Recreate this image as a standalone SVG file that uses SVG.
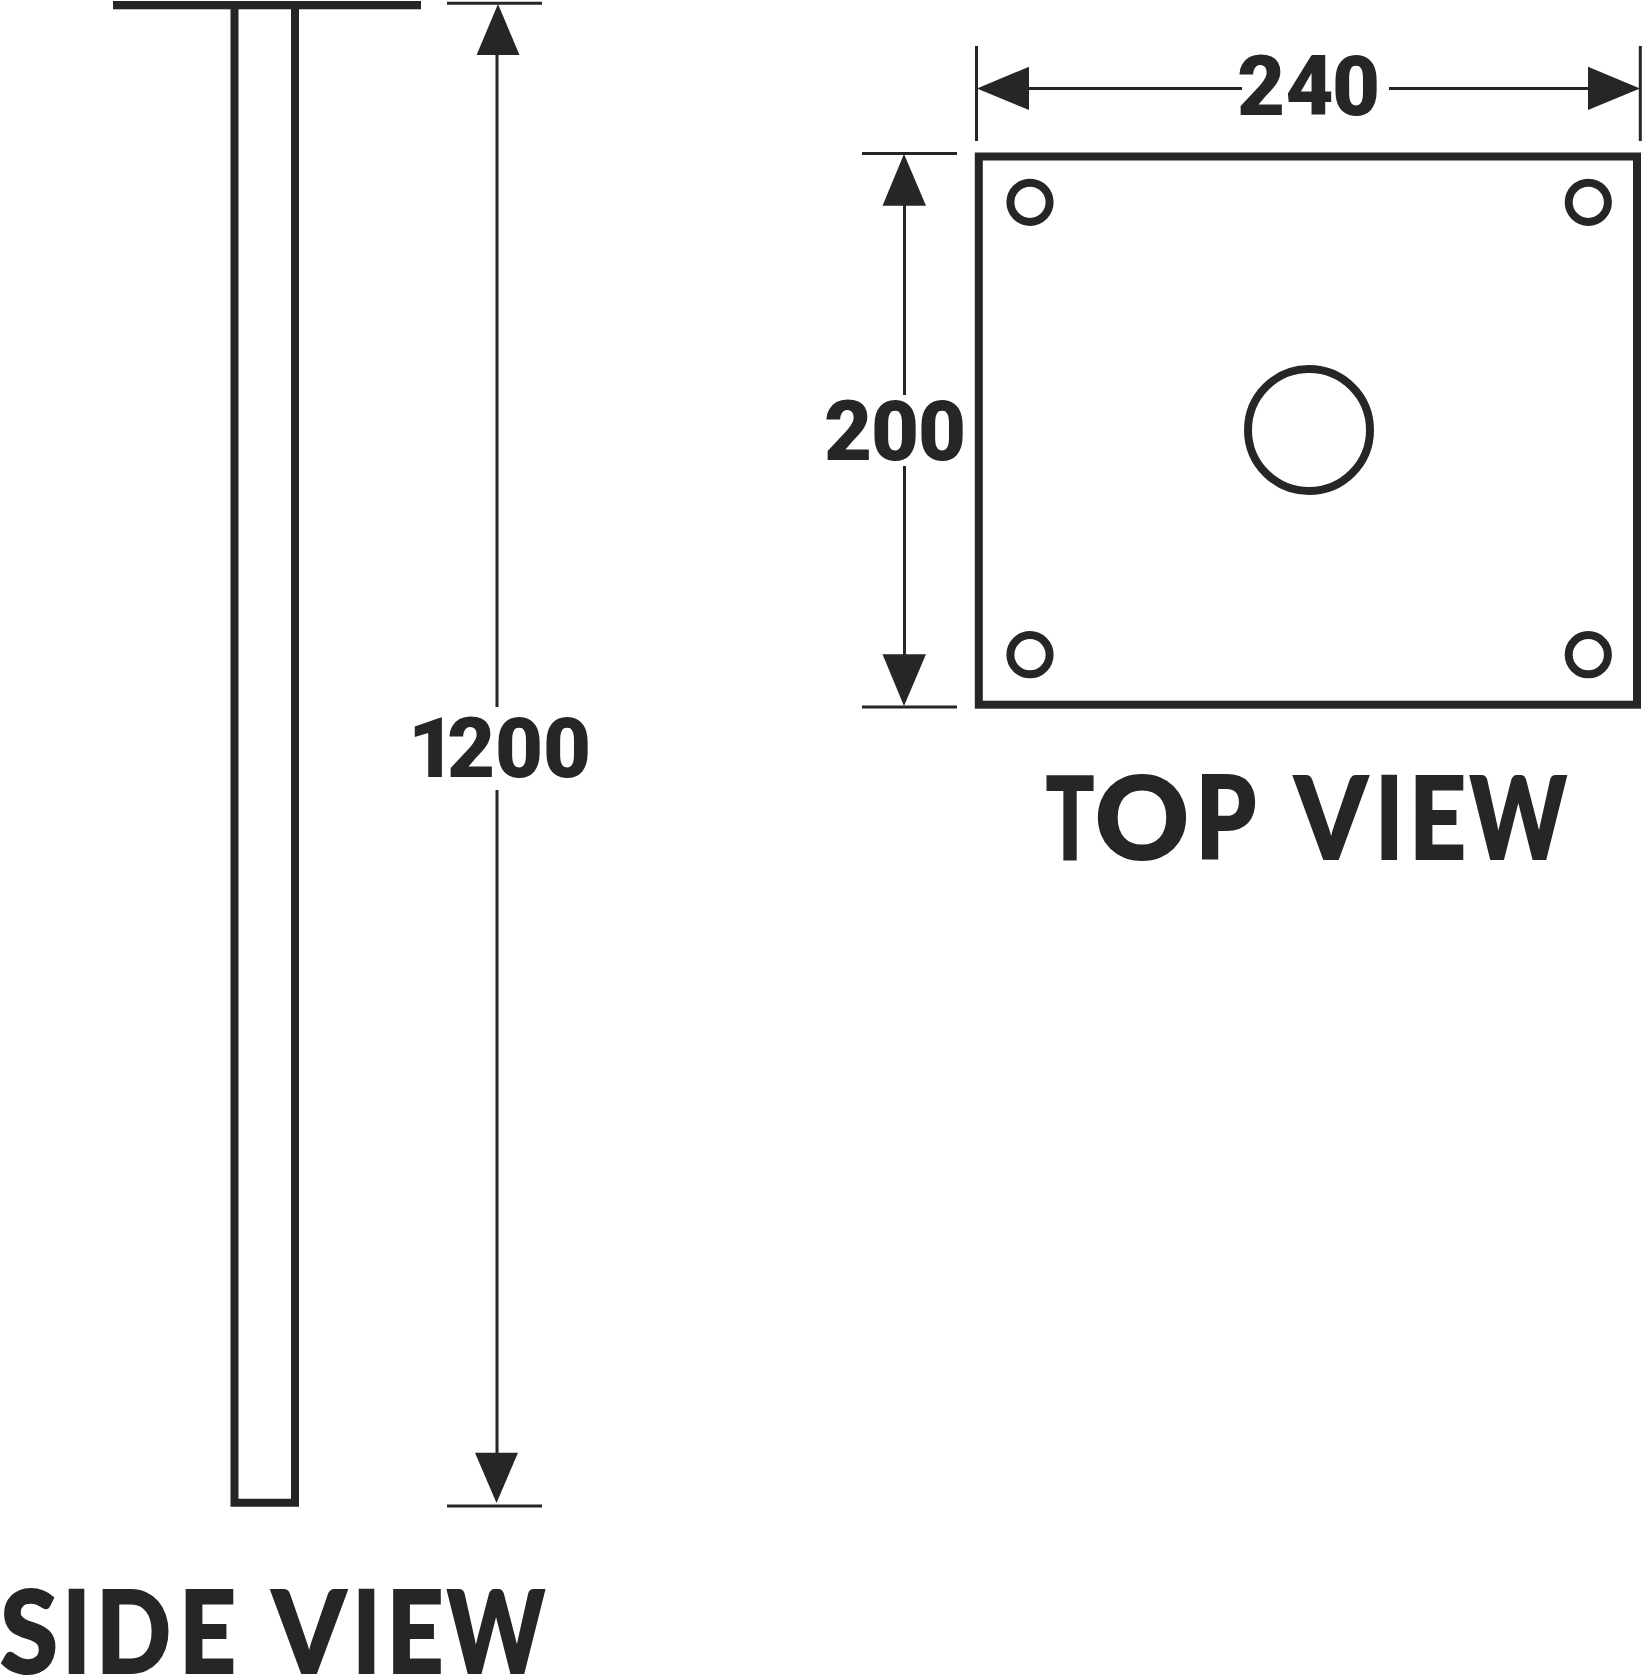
<svg xmlns="http://www.w3.org/2000/svg" width="1642" height="1677" viewBox="0 0 1642 1677">
<style>
.o{fill:none;stroke:#262626;stroke-width:8}
.f{fill:#262626;stroke:none}
.l{stroke:#262626;stroke-width:3;fill:none}
.t{fill:#262626;stroke:#262626;stroke-width:2;font-family:"Lato","Liberation Sans",sans-serif;font-weight:900;font-size:115px}
.n{fill:#262626;font-family:"Roboto","Liberation Sans",sans-serif;font-weight:900;font-size:83px}
</style>
<rect width="1642" height="1677" fill="#fff"/>
<g id="side-view">
<rect class="f" x="113" y="1" width="308" height="8.300"/>
<path class="o" d="M234.500 9V1502.700H295V9"/>
<text class="t" y="1673"><tspan x="0" textLength="58" lengthAdjust="spacingAndGlyphs">S</tspan><tspan x="62.500" textLength="28" lengthAdjust="spacingAndGlyphs">I</tspan><tspan x="96" textLength="75" lengthAdjust="spacingAndGlyphs">D</tspan><tspan x="179" textLength="57" lengthAdjust="spacingAndGlyphs">E</tspan> <tspan x="272" textLength="74" lengthAdjust="spacingAndGlyphs">V</tspan><tspan x="352.500" textLength="28" lengthAdjust="spacingAndGlyphs">I</tspan><tspan x="386.500" textLength="57" lengthAdjust="spacingAndGlyphs">E</tspan><tspan x="447" textLength="98" lengthAdjust="spacingAndGlyphs">W</tspan></text>
</g>
<g id="top-view">
<rect class="o" x="978.800" y="156.500" width="658.200" height="548.200"/>
<circle class="o" cx="1030" cy="202.300" r="19.600"/>
<circle class="o" cx="1588.300" cy="202.300" r="19.600"/>
<circle class="o" cx="1030" cy="654.700" r="19.600"/>
<circle class="o" cx="1588.300" cy="654.700" r="19.600"/>
<circle class="o" cx="1309" cy="430" r="61"/>
<text class="t" y="859"><tspan x="1046" textLength="48" lengthAdjust="spacingAndGlyphs">T</tspan><tspan x="1095" textLength="94" lengthAdjust="spacingAndGlyphs">O</tspan><tspan x="1195.500" textLength="58" lengthAdjust="spacingAndGlyphs">P</tspan> <tspan x="1294.500" textLength="73" lengthAdjust="spacingAndGlyphs">V</tspan><tspan x="1375.200" textLength="28" lengthAdjust="spacingAndGlyphs">I</tspan><tspan x="1409" textLength="57" lengthAdjust="spacingAndGlyphs">E</tspan><tspan x="1469.800" textLength="97" lengthAdjust="spacingAndGlyphs">W</tspan></text>
</g>
<g id="connectors">
<path class="l" d="M447 3.300H542M447 1506H542M497 55V707M497 790V1453"/>
<polygon class="f" points="498,4 476.600,55 519.500,55"/>
<polygon class="f" points="496.500,1503 475,1452.700 518,1452.700"/>
<path class="l" d="M976.500 46V141M1640.300 46V141M1029 88.500H1242M1389 88.500H1588"/>
<polygon class="f" points="977,88.500 1029,66.700 1029,110"/>
<polygon class="f" points="1640,88.500 1588,66.700 1588,110"/>
<path class="l" d="M862 153.500H957M862 707H957M904.500 205V395M904.500 466V655"/>
<polygon class="f" points="904,154 882.500,205.700 926,205.700"/>
<polygon class="f" points="904,706 882.500,654.300 926,654.300"/>
</g>
<g id="labels">
<text class="n" x="408 447 495 543" y="777">1200</text>
<text class="n" x="1237 1285.500 1332" y="114.500">240</text>
<text class="n" x="824 871 918" y="460">200</text>
</g>
</svg>
